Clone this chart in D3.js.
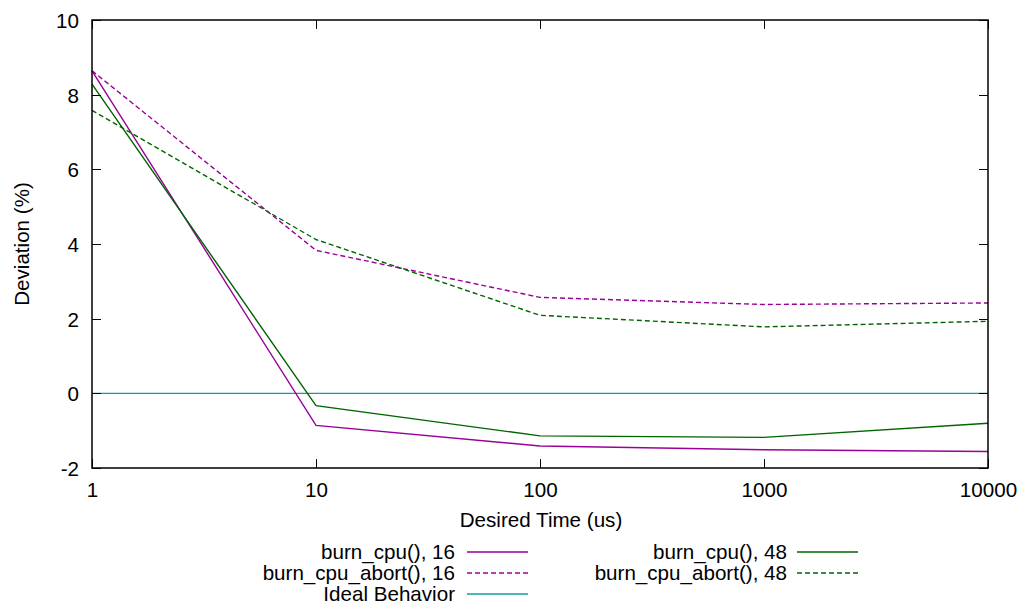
<!DOCTYPE html>
<html><head><meta charset="utf-8">
<script src="https://cdn.jsdelivr.net/npm/d3@7"></script>
<style>body{margin:0;background:#fff}svg{display:block}text{font-family:"Liberation Sans",Arial,sans-serif;fill:#000}</style>
</head><body><svg id="c" width="1018" height="605"></svg>
<script>
const times = [1, 10, 100, 1000, 10000];
const burnCpu16 = [8.64, -0.86, -1.41, -1.51, -1.56];
const burnCpuAbort16 = [8.64, 3.83, 2.57, 2.38, 2.42];
const burnCpu48 = [8.28, -0.33, -1.14, -1.18, -0.80];
const burnCpuAbort48 = [7.58, 4.12, 2.09, 1.78, 1.93];
const ideal = [0, 0, 0, 0, 0];
const yTicks = [-2, 0, 2, 4, 6, 8, 10];
const xTicks = [1, 10, 100, 1000, 10000];
const seriesNames = ["burn_cpu(), 16", "burn_cpu_abort(), 16", "Ideal Behavior", "burn_cpu(), 48", "burn_cpu_abort(), 48"];

const series = [
  {name: seriesNames[0], values: burnCpu16, color: "#990099", dash: null, col: 0, row: 0},
  {name: seriesNames[1], values: burnCpuAbort16, color: "#990099", dash: "5,3", col: 0, row: 1},
  {name: seriesNames[2], values: ideal, color: "#109c9c", dash: null, col: 0, row: 2},
  {name: seriesNames[3], values: burnCpu48, color: "#006400", dash: null, col: 1, row: 0},
  {name: seriesNames[4], values: burnCpuAbort48, color: "#006400", dash: "5,3", col: 1, row: 1}
];

const L = 92, R = 988, T = 20, B = 468;
const FS = 20.6;
const svg = d3.select("#c");
const x = d3.scaleLog().domain([1, 10000]).range([L, R]);
const y = d3.scaleLinear().domain([-2, 10]).range([B, T]);

const g = svg.append("g");
const line = d3.line().x((d, i) => x(times[i])).y(d => y(d));
const drawOrder = [2, 0, 1, 3, 4];
drawOrder.forEach(k => {
  const s = series[k];
  g.append("path").attr("d", line(s.values)).attr("fill", "none")
    .attr("stroke", s.color).attr("stroke-width", 1.4)
    .attr("stroke-dasharray", s.dash);
});

const tl = 9;
const ax = svg.append("g").attr("stroke", "#000").attr("stroke-width", 1);
yTicks.forEach(v => {
  const yy = Math.round(y(v)) + 0.5;
  ax.append("line").attr("x1", L).attr("x2", L + tl).attr("y1", yy).attr("y2", yy);
  ax.append("line").attr("x1", R).attr("x2", R - tl).attr("y1", yy).attr("y2", yy);
  svg.append("text").attr("x", L - 13).attr("y", yy + 7).attr("text-anchor", "end")
    .attr("font-size", FS).text(v);
});
xTicks.forEach(v => {
  const xx = Math.round(x(v)) + 0.5;
  ax.append("line").attr("x1", xx).attr("x2", xx).attr("y1", B).attr("y2", B - tl);
  ax.append("line").attr("x1", xx).attr("x2", xx).attr("y1", T).attr("y2", T + tl);
  svg.append("text").attr("x", xx).attr("y", B + 29).attr("text-anchor", "middle")
    .attr("font-size", FS).text(v);
});
svg.append("rect").attr("x", L).attr("y", T).attr("width", R - L).attr("height", B - T)
  .attr("fill", "none").attr("stroke", "#000").attr("stroke-width", 1.5);

svg.append("text").attr("x", (L + R) / 2 + 1).attr("y", 527).attr("text-anchor", "middle")
  .attr("font-size", FS).text("Desired Time (us)");
svg.append("text").attr("transform", `translate(29,${(T + B) / 2}) rotate(-90)`)
  .attr("text-anchor", "middle").attr("font-size", FS).text("Deviation (%)");

const colText = [455, 787], colLine = [467, 797], rowY = [552, 573, 594];
series.forEach(s => {
  const yy = rowY[s.row];
  svg.append("text").attr("x", colText[s.col]).attr("y", yy + 7).attr("text-anchor", "end")
    .attr("font-size", FS).text(s.name);
  svg.append("line").attr("x1", colLine[s.col]).attr("x2", colLine[s.col] + 61)
    .attr("y1", yy).attr("y2", yy).attr("stroke", s.color).attr("stroke-width", 1.4)
    .attr("stroke-dasharray", s.dash);
});
</script></body></html>
